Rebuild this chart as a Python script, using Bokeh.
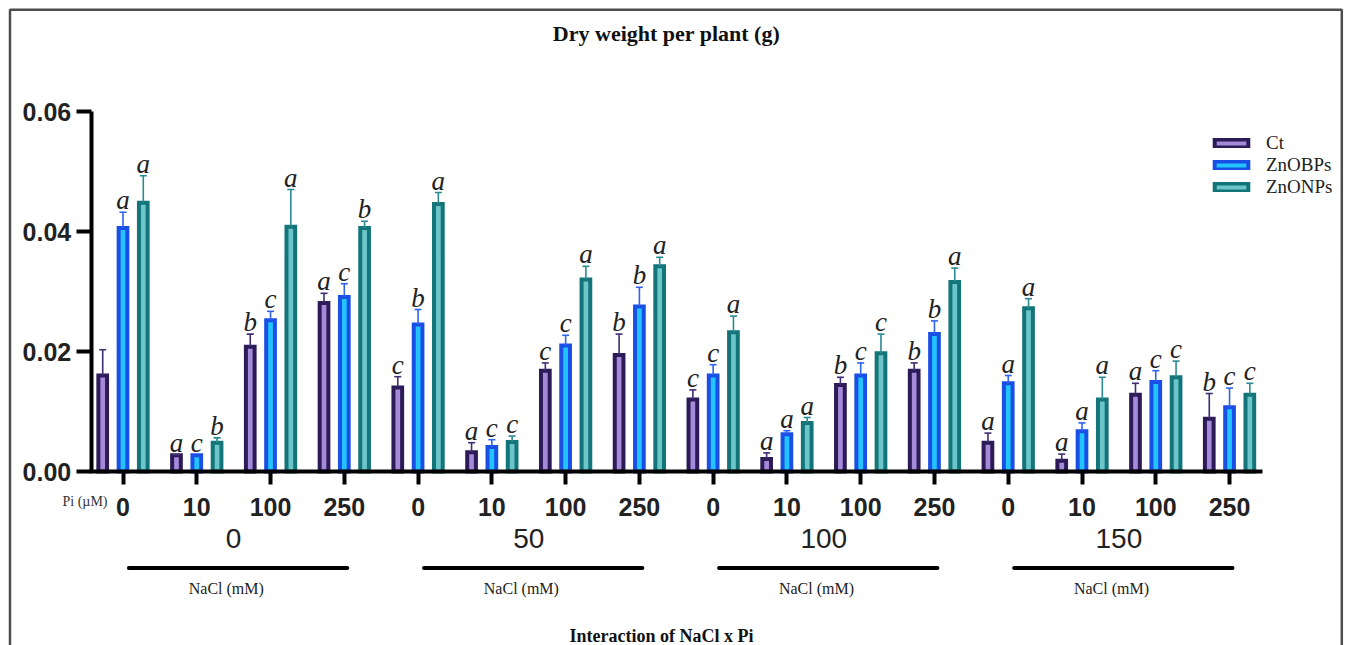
from bokeh.plotting import figure
from bokeh.models import (Range1d, FixedTicker, LinearAxis, ColumnDataSource, Whisker,
                          TeeHead, Legend, LegendItem, BoxAnnotation, PrintfTickFormatter)
from bokeh.core.properties import value
from bokeh.embed import file_html
from bokeh.resources import INLINE

# ---------------- data ----------------
nacl_levels = ["0", "50", "100", "150"]
pi_levels = ["0", "10", "100", "250"]
series_names = ["Ct", "ZnOBPs", "ZnONPs"]

ct_mean = [0.0160, 0.0027, 0.0208, 0.0281, 0.0140, 0.0032, 0.0168, 0.0194,
           0.0120, 0.0021, 0.0144, 0.0168, 0.0048, 0.0018, 0.0128, 0.0088]
ct_err = [0.0043, 0.0001, 0.0021, 0.0016, 0.0018, 0.0016, 0.0013, 0.0035,
          0.0016, 0.0010, 0.0013, 0.0013, 0.0016, 0.0011, 0.0019, 0.0042]
ct_letters = ["", "a", "b", "a", "c", "a", "c", "b",
              "c", "a", "b", "b", "a", "a", "a", "b"]

zb_mean = [0.0406, 0.0027, 0.0252, 0.0291, 0.0245, 0.0041, 0.0210, 0.0275,
           0.0160, 0.0062, 0.0160, 0.0229, 0.0147, 0.0067, 0.0149, 0.0107]
zb_err = [0.0026, 0.0000, 0.0015, 0.0022, 0.0025, 0.0012, 0.0017, 0.0032,
          0.0018, 0.0006, 0.0021, 0.0022, 0.0013, 0.0014, 0.0019, 0.0032]
zb_letters = ["a", "c", "c", "c", "b", "c", "c", "b",
              "c", "a", "c", "b", "a", "a", "c", "c"]

zn_mean = [0.0448, 0.0048, 0.0408, 0.0406, 0.0446, 0.0049, 0.0320, 0.0342,
           0.0232, 0.0081, 0.0197, 0.0316, 0.0272, 0.0120, 0.0157, 0.0128]
zn_err = [0.0045, 0.0008, 0.0062, 0.0011, 0.0019, 0.0010, 0.0022, 0.0015,
          0.0027, 0.0009, 0.0032, 0.0023, 0.0016, 0.0037, 0.0027, 0.0019]
zn_letters = ["a", "b", "a", "b", "a", "c", "a", "a",
              "a", "a", "c", "a", "a", "a", "c", "c"]

y_ticks = [0.00, 0.02, 0.04, 0.06]

# ---------------- layout / scales ----------------
W, H = 1350, 645
ORIGIN = 0        # canvas position on the page
PX_X = 73.77      # pixels per category step
PX_Y = 6000.0     # pixels per gram
X_LEFT = (ORIGIN - 122.5) / PX_X
Y_TOP = 0.06 + (111 - ORIGIN) / PX_Y


def px_x(page_x):
    return X_LEFT + (page_x - ORIGIN) / PX_X


def px_y(page_y):
    return Y_TOP - (page_y - ORIGIN) / PX_Y


p = figure(width=W, height=H,
           x_range=Range1d(X_LEFT, X_LEFT + W / PX_X),
           y_range=Range1d(Y_TOP - H / PX_Y, Y_TOP),
           output_backend="svg", toolbar_location=None,
           x_axis_location=None, y_axis_location=None, min_border=0)
p.outline_line_color = None
p.background_fill_color = "white"
p.border_fill_color = "white"
for g in p.grid:
    g.visible = False

n = len(ct_mean)
positions = list(range(n))
BAR_W = 0.118
OFF = 0.275

series = [
    (ct_mean, ct_err, ct_letters, -OFF, "#2c1b56", "#a48ad8", "#3e2d72"),
    (zb_mean, zb_err, zb_letters, 0.0, "#1a4fe6", "#22c4ff", "#2f63f0"),
    (zn_mean, zn_err, zn_letters, OFF, "#13747a", "#6cc6c9", "#2a8a90"),
]

legend_items = []
for name, (mean, err, letters, off, lc, fc, ec) in zip(series_names, series):
    xs = [i + off for i in positions]
    src = ColumnDataSource(dict(x=xs, top=mean))
    r = p.vbar(x="x", top="top", bottom=0, width=BAR_W, source=src,
               fill_color=fc, line_color=lc, line_width=4, line_join="miter")
    legend_items.append(LegendItem(label=name, renderers=[r]))

    ex = [x for x, e in zip(xs, err) if e > 0]
    elo = [m for m, e in zip(mean, err) if e > 0]
    ehi = [m + e for m, e in zip(mean, err) if e > 0]
    esrc = ColumnDataSource(dict(base=ex, lower=elo, upper=ehi))
    wh = Whisker(base="base", lower="lower", upper="upper", source=esrc,
                 line_color=ec, line_width=1.6,
                 upper_head=TeeHead(size=7, line_color=ec, line_width=1.6),
                 lower_head=None, level="glyph")
    p.add_layout(wh)

    lsrc = ColumnDataSource(dict(x=xs, y=[m + e + 12 / PX_Y for m, e in zip(mean, err)],
                                 t=letters))
    p.text(x="x", y="y", text="t", source=lsrc, text_align="center",
           text_baseline="alphabetic", text_font=value("Liberation Serif"),
           text_font_style="italic", text_font_size="27px", text_color="#222222")

# ---------------- axes ----------------
xaxis = LinearAxis(fixed_location=0, bounds=(-0.45, 15.45),
                   ticker=FixedTicker(ticks=positions),
                   major_label_overrides={i: pi_levels[i % 4] for i in positions})
xaxis.axis_line_width = 4
xaxis.axis_line_color = "black"
xaxis.major_tick_line_width = 4
xaxis.major_tick_out = 13
xaxis.major_tick_in = 0
xaxis.minor_tick_line_color = None
xaxis.major_label_text_font = "Liberation Sans"
xaxis.major_label_text_font_style = "bold"
xaxis.major_label_text_font_size = "25px"
xaxis.major_label_text_color = "#222222"
xaxis.major_label_standoff = 13
p.add_layout(xaxis, "below")

yaxis = LinearAxis(fixed_location=-0.43, bounds=(0, 0.06),
                   ticker=FixedTicker(ticks=y_ticks),
                   formatter=PrintfTickFormatter(format="%.2f"))
yaxis.axis_line_width = 4
yaxis.axis_line_color = "black"
yaxis.major_tick_line_width = 4
yaxis.major_tick_out = 15
yaxis.major_tick_in = 0
yaxis.minor_tick_line_color = None
yaxis.major_label_text_font = "Liberation Sans"
yaxis.major_label_text_font_style = "bold"
yaxis.major_label_text_font_size = "25px"
yaxis.major_label_text_color = "#222222"
yaxis.major_label_standoff = 5
yaxis.major_label_orientation = "horizontal"
p.add_layout(yaxis, "left")

# ---------------- group annotations ----------------
group_centers = [4 * k + 1.5 for k in range(len(nacl_levels))]
p.text(x=group_centers, y=[px_y(538)] * 4, text=nacl_levels, text_align="center",
       text_baseline="middle", text_font=value("Liberation Sans"),
       text_font_size="28px", text_color="#222222")
p.segment(x0=[4 * k + 0.08 for k in range(4)], x1=[4 * k + 3.04 for k in range(4)],
          y0=[px_y(567.5)] * 4, y1=[px_y(567.5)] * 4,
          line_color="black", line_width=4, line_cap="round")
p.text(x=[c - 0.1 for c in group_centers], y=[px_y(588)] * 4, text=["NaCl (mM)"] * 4,
       text_align="center", text_baseline="middle",
       text_font=value("Liberation Serif"), text_font_size="16px", text_color="#222222")

p.text(x=[px_x(62)], y=[px_y(501)], text=["Pi (µM)"], text_align="left",
       text_baseline="alphabetic", text_font=value("Liberation Serif"),
       text_font_size="14px", text_color="#333333")

p.text(x=[px_x(666)], y=[px_y(33)], text=["Dry weight per plant (g)"],
       text_align="center", text_baseline="alphabetic",
       text_font=value("Liberation Serif"), text_font_style="bold",
       text_font_size="22px", text_color="#111111")
p.text(x=[px_x(661)], y=[px_y(635)], text=["Interaction of NaCl x Pi"],
       text_align="center", text_baseline="alphabetic",
       text_font=value("Liberation Serif"), text_font_style="bold",
       text_font_size="18px", text_color="#111111")

# ---------------- outer border (bottom edge lies below the window) ----------------
p.add_layout(BoxAnnotation(left=px_x(9.5), right=px_x(1341.3), top=px_y(9.2),
                           bottom=px_y(700), fill_alpha=0, line_color="#4d4d4d",
                           line_width=2.5, line_alpha=1.0, level="underlay"))

# ---------------- legend ----------------
legend = Legend(items=legend_items, location=(1210, 447), orientation="vertical",
                border_line_color=None, background_fill_alpha=0, padding=5, spacing=0,
                margin=0, glyph_width=42, glyph_height=10, label_standoff=14,
                label_text_font="Liberation Serif", label_text_font_size="19px",
                label_text_color="#222222")
p.add_layout(legend)

open("out.html", "w").write(file_html(p, INLINE))
